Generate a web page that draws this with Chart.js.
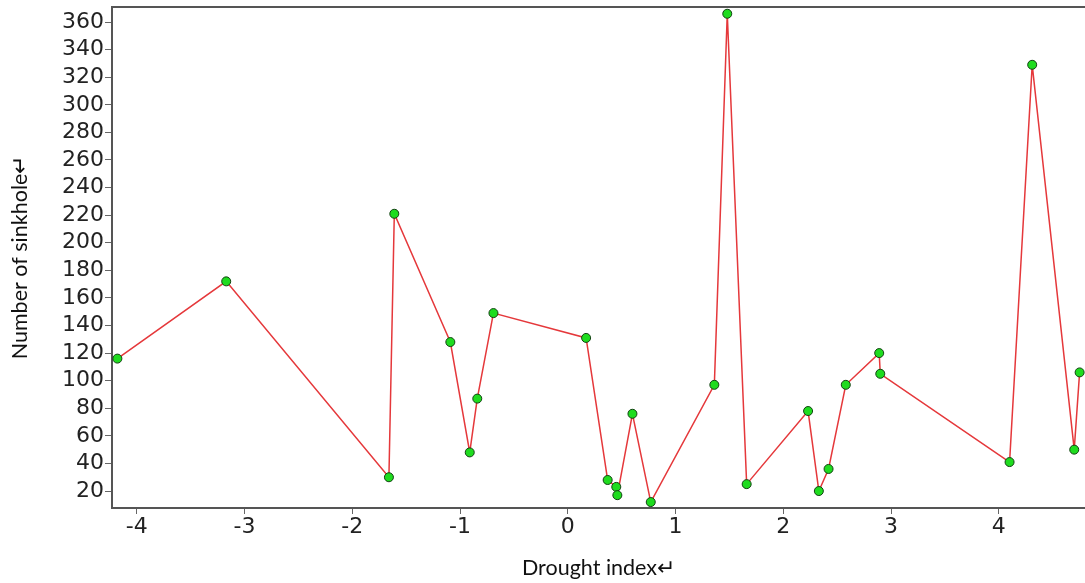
<!DOCTYPE html>
<html>
<head>
<meta charset="utf-8">
<script src="https://cdn.jsdelivr.net/npm/chart.js@4"></script>
<style>
  html, body { margin: 0; padding: 0; background: #fff; }
  #wrap { width: 1085px; height: 583px; }
</style>
</head>
<body>
<div id="wrap"><canvas id="sinkChart"></canvas></div>
<script>
// values
const droughtIndex = [-4.18, -3.17, -1.66, -1.61, -1.09, -0.91, -0.84, -0.69, 0.17, 0.37,
  0.45, 0.46, 0.60, 0.77, 1.36, 1.48, 1.66, 2.23, 2.33, 2.42, 2.58, 2.89, 2.90, 4.10, 4.31, 4.70, 4.75];
const sinkholes = [116, 172, 30, 221, 128, 48, 87, 149, 131, 28,
  23, 17, 76, 12, 97, 366, 25, 78, 20, 36, 97, 120, 105, 41, 329, 50, 106];
const xTicks = [-4, -3, -2, -1, 0, 1, 2, 3, 4];
const yTicks = [20, 40, 60, 80, 100, 120, 140, 160, 180, 200, 220, 240, 260, 280, 300, 320, 340, 360];

const points = droughtIndex.map((x, i) => ({ x: x, y: sinkholes[i] }));

// top frame line
const topFrame = {
  id: 'topFrame',
  afterDraw(chart) {
    const { ctx, chartArea } = chart;
    ctx.save();
    ctx.strokeStyle = '#555';
    ctx.lineWidth = 2;
    ctx.beginPath();
    ctx.moveTo(chartArea.left - 1, chartArea.top);
    ctx.lineTo(chartArea.right, chartArea.top);
    ctx.stroke();
    ctx.restore();
  }
};

const tickFont = { family: 'DejaVu Sans', size: 22 };
const titleFont = { family: 'Lato', size: 21.5 };

new Chart(document.getElementById('sinkChart'), {
  type: 'line',
  data: {
    datasets: [{
      data: points,
      borderColor: '#e5383b',
      borderWidth: 1.5,
      tension: 0,
      pointRadius: 4.5,
      pointBackgroundColor: '#1fdc1f',
      pointBorderColor: '#124012',
      pointBorderWidth: 1
    }]
  },
  options: {
    responsive: true,
    maintainAspectRatio: false,
    animation: false,
    layout: { autoPadding: false, padding: { top: 7, left: 0, right: 0, bottom: 0 } },
    plugins: {
      legend: { display: false },
      tooltip: { enabled: false }
    },
    scales: {
      x: {
        type: 'linear',
        min: -4.23,
        max: 4.80,
        afterBuildTicks: s => { s.ticks = xTicks.map(v => ({ value: v })); },
        afterFit: s => { s.height = 75; s.paddingLeft = 0; s.paddingRight = 0; },
        grid: { drawOnChartArea: false, tickLength: 6, color: '#666' },
        border: { color: '#555', width: 2 },
        ticks: { color: '#222', font: tickFont, padding: 0, autoSkip: false, maxRotation: 0 },
        title: {
          display: true,
          text: 'Drought index↵',
          color: '#111',
          font: titleFont,
          padding: { top: 0, bottom: 2 }
        }
      },
      y: {
        type: 'linear',
        min: 7.7,
        max: 370.9,
        afterBuildTicks: s => { s.ticks = yTicks.map(v => ({ value: v })); },
        afterFit: s => { s.width = 112; s.paddingTop = 0; s.paddingBottom = 0; },
        grid: { drawOnChartArea: false, tickLength: 7, color: '#666' },
        border: { color: '#555', width: 2 },
        ticks: { color: '#222', font: tickFont, padding: 1, autoSkip: false },
        title: {
          display: true,
          text: 'Number of sinkhole↵',
          color: '#111',
          font: titleFont,
          padding: { top: 7, bottom: 0 }
        }
      }
    }
  },
  plugins: [topFrame]
});
</script>
</body>
</html>
